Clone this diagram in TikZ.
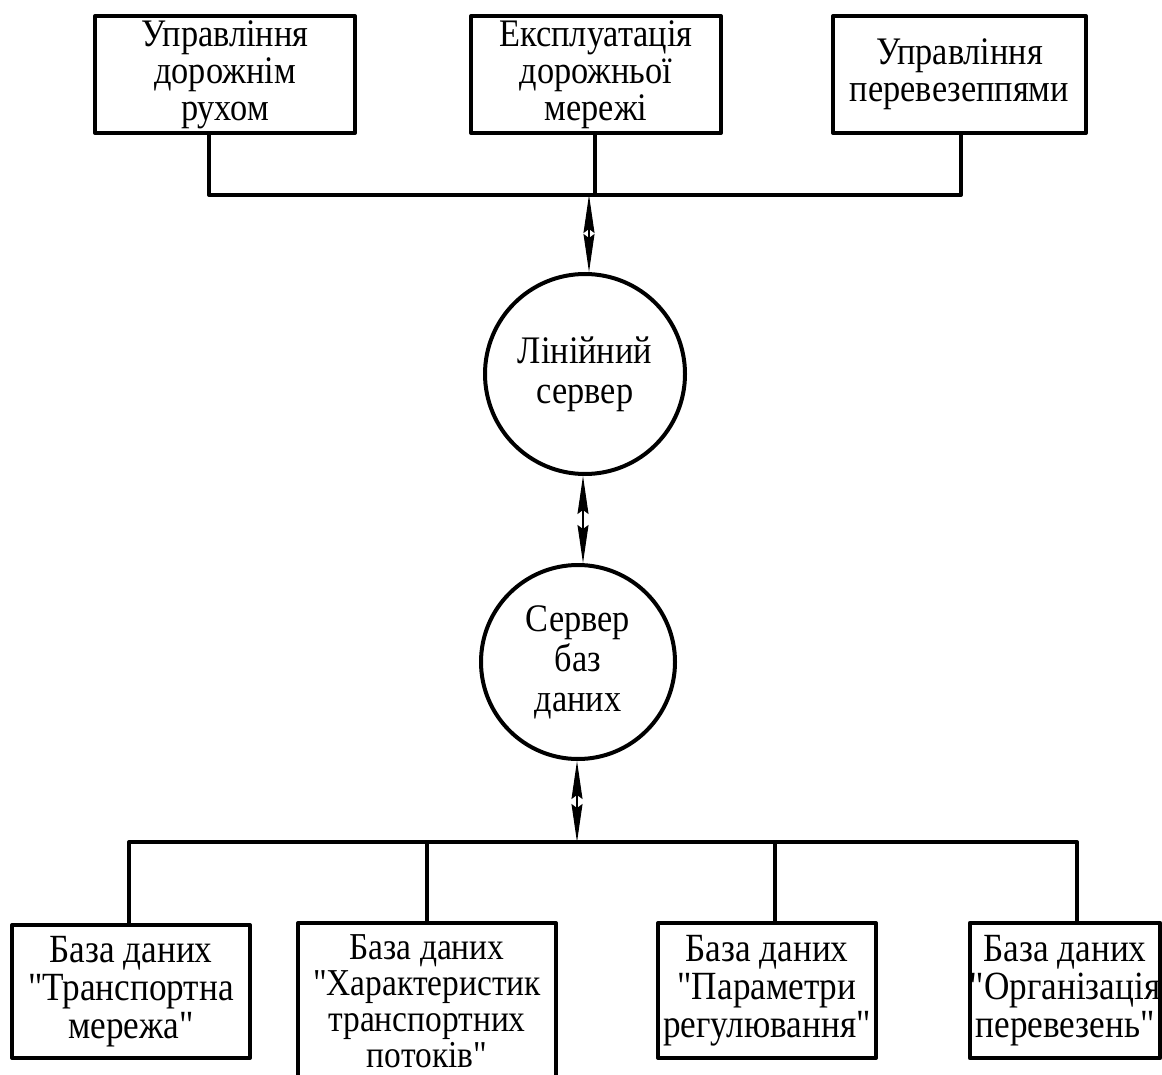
\documentclass[tikz,border=0pt]{standalone}
\usepackage{fontspec}
\newfontfamily\diagfont[FakeStretch=0.88]{Liberation Serif}
\usetikzlibrary{arrows.meta}

\begin{document}
\begin{tikzpicture}[x=1pt,y=-1pt,
  wire/.style={line width=4pt, line join=round},
  box/.style={draw, line width=4pt, line join=round, inner sep=0pt,
    align=center, font=\diagfont\fontsize{39}{37}\selectfont},
  dbbox/.style={box, font=\diagfont\fontsize{40}{38}\selectfont},
  srv/.style={draw, circle, line width=4pt, inner sep=0pt,
    align=center, font=\diagfont\fontsize{39}{40}\selectfont},
  link/.style={line width=1.2pt,
    {Stealth[length=38pt,width=11pt,inset=4pt]}-{Stealth[length=38pt,width=11pt,inset=4pt]}}]

\useasboundingbox (0,0) rectangle (1162,1075);

% upper group of tasks
\node[box, minimum width=260pt, minimum height=117pt] (traffic) at (225,74.5)
  {Управління\\дорожнім\\рухом};
\node[box, minimum width=250pt, minimum height=117pt] (roads) at (596,74.5)
  {Експлуатація\\дорожньої\\мережі};
\node[box, minimum width=253pt, minimum height=117pt] (freight) at (959.5,74.5)
  {Управління\\перевезеппями};

% servers
\node[srv, minimum size=200pt] (line) at (585,374) {Лінійний\\сервер};
\node[srv, minimum size=194pt] (dbsrv) at (578,662) {Сервер\\баз\\даних};

% databases
\node[dbbox, minimum width=238pt, minimum height=133pt] (dbA) at (131,991.5)
  {База даних\\"Транспортна\\мережа"};
\node[dbbox, minimum width=258pt, minimum height=157pt,
  font=\diagfont\fontsize{38}{36}\selectfont] (dbB) at (427,1001.5)
  {База даних\\"Характеристик\\транспортних\\потоків"};
\node[dbbox, minimum width=218pt, minimum height=135pt] (dbC) at (767,990.5)
  {База даних\\"Параметри\\регулювання"};
\node[dbbox, minimum width=186pt, minimum height=135pt] (dbD) at (1065,990.5)
  {База даних\\"Організація\\перевезень"};

% bus coordinates
\coordinate (topL) at (209,195);
\coordinate (topM) at (595,195);
\coordinate (topR) at (961,195);
\coordinate (topArrow) at (589,195);
\coordinate (botL) at (129,842);
\coordinate (botB) at (427,842);
\coordinate (botC) at (775,842);
\coordinate (botR) at (1077,842);
\coordinate (botArrow) at (577,842);

% upper bus
\draw[wire] (topL |- traffic.south) -- (topL) -- (topR) -- (topR |- freight.south);
\draw[wire] (topM |- roads.south) -- (topM);

% lower bus
\draw[wire] (botL |- dbA.north) -- (botL) -- (botR) -- (botR |- dbD.north);
\draw[wire] (botB) -- (botB |- dbB.north);
\draw[wire] (botC) -- (botC |- dbC.north);

% two-way data links
\draw[link] (topArrow) -- (topArrow |- line.north);
\draw[link] (583,0 |- line.south) -- (583,0 |- dbsrv.north);
\draw[link] (botArrow |- dbsrv.south) -- (botArrow);
\end{tikzpicture}
\end{document}
